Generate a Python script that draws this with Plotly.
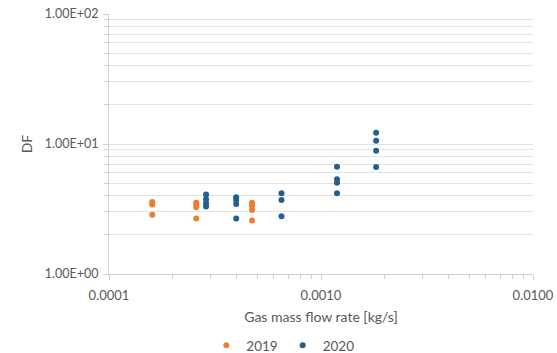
import plotly.graph_objects as go

# Data
x_2019 = [1.6e-4, 1.6e-4, 1.6e-4,
          2.58e-4, 2.58e-4, 2.58e-4, 2.58e-4,
          4.73e-4, 4.73e-4, 4.73e-4, 4.73e-4]
df_2019 = [3.58, 3.42, 2.86,
           3.54, 3.40, 3.26, 2.67,
           3.54, 3.34, 3.11, 2.58]

x_2020 = [2.87e-4, 2.87e-4, 2.87e-4, 2.87e-4,
          3.98e-4, 3.98e-4, 3.98e-4, 3.98e-4,
          6.51e-4, 6.51e-4, 6.51e-4,
          1.19e-3, 1.19e-3, 1.19e-3, 1.19e-3,
          1.82e-3, 1.82e-3, 1.82e-3, 1.82e-3]
df_2020 = [4.08, 3.76, 3.50, 3.30,
           3.89, 3.71, 3.46, 2.67,
           4.18, 3.71, 2.78,
           6.69, 5.35, 5.04, 4.18,
           12.2, 10.6, 8.87, 6.66]

x_tickvals = [1e-4, 1e-3, 1e-2]
x_ticktext = ["0.0001", "0.0010", "0.0100"]
y_tickvals = [1, 10, 100]
y_ticktext = ["1.00E+00", "1.00E+01", "1.00E+02"]

x_minor = [m * d for d in (1e-4, 1e-3) for m in range(2, 10)]
y_minor = [m * d for d in (1, 10) for m in range(2, 10)]

font_col = "#595959"
grid_col = "#e3e3e3"
axis_col = "#d0d0d0"
fam = "Lato, Open Sans, sans-serif"

fig = go.Figure()
fig.add_trace(go.Scatter(x=x_2019, y=df_2019, mode="markers", name="2019",
                         marker=dict(color="#ED7D31", size=6)))
fig.add_trace(go.Scatter(x=x_2020, y=df_2020, mode="markers", name="2020",
                         marker=dict(color="#255E91", size=6)))

fig.update_layout(
    width=557, height=353,
    margin=dict(l=109, r=24, t=14, b=79, autoexpand=False),
    paper_bgcolor="white", plot_bgcolor="white",
    font=dict(family=fam, size=14, color=font_col),
    showlegend=True,
    legend=dict(orientation="h", x=0.41, xanchor="center", y=-0.275, yanchor="middle",
                font=dict(size=13.5, color=font_col), itemwidth=30, tracegroupgap=0,
                bgcolor="rgba(0,0,0,0)"),
    xaxis=dict(type="log", range=[-4, -2], automargin=False,
               tickmode="array", tickvals=x_tickvals, ticktext=x_ticktext,
               showgrid=False, zeroline=False,
               showline=True, linecolor=axis_col, linewidth=1,
               ticks="outside", ticklen=5, tickcolor=axis_col,
               minor=dict(tickmode="array", tickvals=x_minor, ticks="outside",
                          ticklen=4, tickcolor=axis_col, showgrid=False),
               tickfont=dict(family=fam, size=13, color=font_col),
               ticklabelstandoff=4,
               title=dict(text="Gas mass flow rate [kg/s]", standoff=10,
                          font=dict(family=fam, size=14, color=font_col))),
    yaxis=dict(type="log", range=[0, 2], automargin=False,
               tickmode="array", tickvals=y_tickvals, ticktext=y_ticktext,
               showgrid=True, gridcolor=grid_col, gridwidth=1, zeroline=False,
               showline=True, linecolor=axis_col, linewidth=1,
               ticks="outside", ticklen=5, tickcolor=axis_col,
               minor=dict(tickmode="array", tickvals=y_minor, ticks="outside",
                          ticklen=4, tickcolor=axis_col, showgrid=True,
                          gridcolor=grid_col, gridwidth=1),
               tickfont=dict(family=fam, size=12.5, color=font_col),
               ticklabelstandoff=2,
               title=dict(text="DF", standoff=8,
                          font=dict(family=fam, size=14, color=font_col))),
)

fig.write_html("out.html", config={"displayModeBar": False},
               post_script="document.body.style.margin='0';")
